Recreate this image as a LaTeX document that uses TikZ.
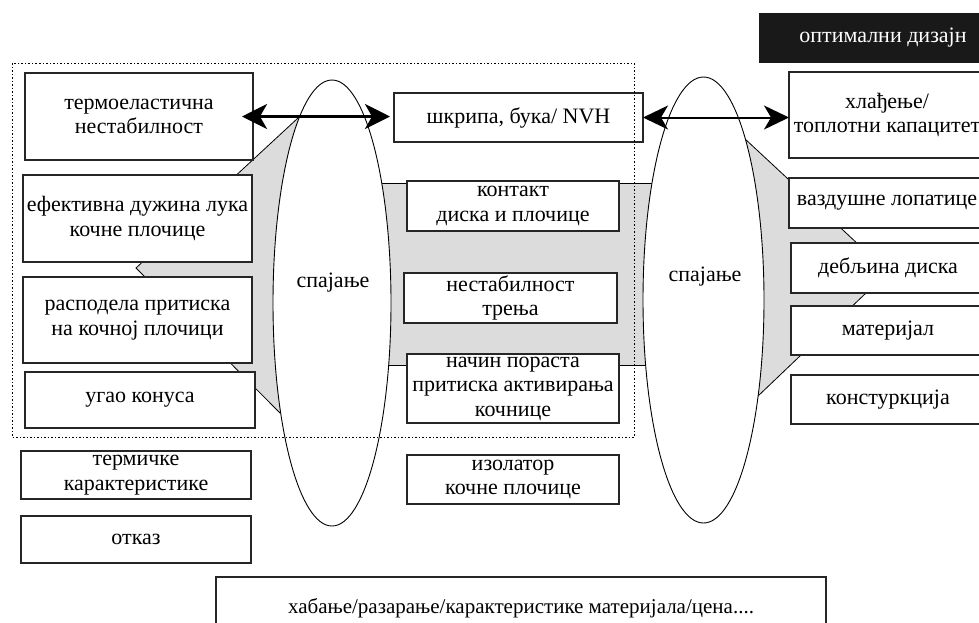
\documentclass[tikz,border=0pt]{standalone}
\usepackage{fontspec}
\setmainfont{Liberation Serif}
\usetikzlibrary{arrows.meta, shapes.geometric}
\definecolor{zonegray}{RGB}{220, 220, 220}

\begin{document}
\begin{tikzpicture}[
  x=1pt, y=-1pt,
  font=\fontsize{22}{24.5}\selectfont,
  box/.style={
    rectangle, draw=black!85, fill=white,
    line width=1.3pt, inner sep=0pt, outer sep=0pt,
    align=center
  },
  darkbox/.style={
    rectangle, fill=black!90, text=white,
    inner sep=0pt, outer sep=0pt
  },
  joinell/.style={
    ellipse, draw=black, fill=white,
    line width=0.9pt, inner sep=0pt, outer sep=0pt
  },
  grayzone/.style={fill=zonegray, draw=black, line width=0.8pt},
  bigarrow/.style={
    line width=3.5pt,
    {Stealth[length=25pt, width=25pt, inset=7pt]}-{Stealth[length=25pt, width=25pt, inset=7pt]}
  },
  thinarrow/.style={
    line width=2pt,
    {Stealth[length=25pt, width=24pt, inset=7pt]}-{Stealth[length=25pt, width=24pt, inset=7pt]}
  },
  frame/.style={draw=black, line width=1pt, dash pattern=on 1.5pt off 2pt},
]

\useasboundingbox (0,0) rectangle (979,622);
\clip (0,0) rectangle (979,622);
\fill[white] (0,0) rectangle (979,622);

%% gray zones behind the boxes
\path[grayzone] (298,118) -- (136,268) -- (280,413) -- (332,413) -- (332,118) -- cycle;
\path[grayzone] (332,183) rectangle (703,365);
\path[grayzone] (744,138) -- (888,272) -- (757,397) -- (703,397) -- (703,138) -- cycle;

%% coupling ellipses
\node[joinell, minimum width=118pt, minimum height=446pt] (spojL) at (332,303) {};
\node[joinell, minimum width=121pt, minimum height=446pt] (spojR) at (703.5,300) {};
\node (spojLtxt) at (333,283) {спајање};
\node (spojRtxt) at (705,277) {спајање};

%% left column
\node[box, minimum width=228pt, minimum height=87pt] (termo) at (139,116.5)
  {термоеластична\\нестабилност};
\node[box, minimum width=229pt, minimum height=87pt] (efekt) at (137.5,218.5)
  {ефективна дужина лука\\кочне плочице};
\node[box, minimum width=229pt, minimum height=86pt] (raspod) at (137.5,320)
  {расподела притиска\\на кочној плочици};
\node[box, minimum width=230pt, minimum height=56pt] (ugao) at (140,400)
  {угао конуса};
\node[box, minimum width=230pt, minimum height=48pt] (termick) at (136,475)
  {термичке\\карактеристике};
\node[box, minimum width=230pt, minimum height=47pt] (otkaz) at (136,539.5)
  {отказ};

%% middle column
\node[box, minimum width=249pt, minimum height=49pt] (skripa) at (518.5,117.5)
  {шкрипа, бука/ NVH};
\node[box, minimum width=212pt, minimum height=50pt] (kontakt) at (513,206)
  {контакт\\диска и плочице};
\node[box, minimum width=213pt, minimum height=50pt] (nestab) at (510.5,298)
  {нестабилност\\трења};
\node[box, minimum width=212pt, minimum height=69pt] (nacin) at (513,388.5)
  {начин пораста\\притиска активирања\\кочнице};
\node[box, minimum width=212pt, minimum height=49pt] (izol) at (513,479.5)
  {изолатор\\кочне плочице};

%% right column
\node[darkbox, minimum width=248pt, minimum height=50pt] (optim) at (883,38)
  {оптимални дизајн};
\node[box, minimum width=196pt, minimum height=86pt] (hladj) at (887,115)
  {хлађење/\\топлотни капацитет};
\node[box, minimum width=196pt, minimum height=50pt] (vazd) at (887,203)
  {ваздушне лопатице};
\node[box, minimum width=194pt, minimum height=50pt] (debl) at (888,268)
  {дебљина диска};
\node[box, minimum width=194pt, minimum height=49pt] (mater) at (888,330.5)
  {материјал};
\node[box, minimum width=194pt, minimum height=49pt] (konstr) at (888,399.5)
  {констуркција};

%% bottom
\node[box, minimum width=610pt, minimum height=63pt, font=\fontsize{21}{24}\selectfont]
  (haban) at (521,608.5)
  {хабање/разарање/карактеристике материјала/цена....};

%% arrows
\draw[bigarrow, shorten <=-11pt, shorten >=4pt] (termo.east) -- (termo.east -| skripa.west);
\draw[thinarrow] (skripa.east) -- (skripa.east -| hladj.west);

%% dotted frame
\draw[frame] (12,63) rectangle (634,437);

\end{tikzpicture}
\end{document}
